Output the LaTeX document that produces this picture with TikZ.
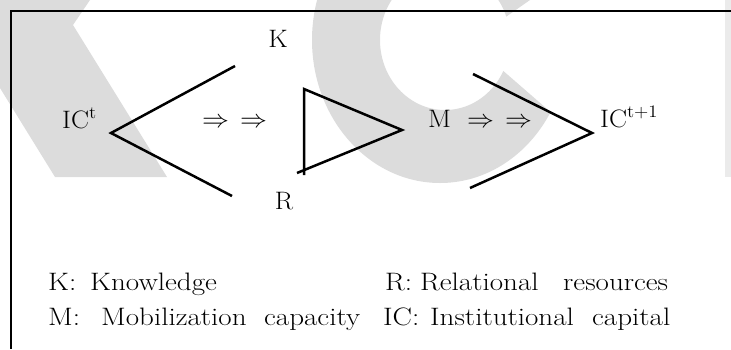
\documentclass[tikz,border=0pt]{standalone}
\usepackage{graphicx}
\definecolor{wm}{HTML}{DCDCDC}
\definecolor{wmlight}{HTML}{EBEBEB}
\newcommand{\sctxt}[1]{\scalebox{1.56}[1.46]{#1}}
\newcommand{\wtxt}[1]{\scalebox{1.68}[1.46]{#1}}
\begin{document}
\begin{tikzpicture}[x=1pt,y=-1pt,
  txt/.style={inner sep=0pt, font=\fontsize{17.28}{21}\selectfont},
  stroke/.style={line width=2.5pt, line join=miter},
  frame/.style={line width=1.7pt}]
\useasboundingbox (0,0) rectangle (731,349);
% watermark
\begin{scope}
  \clip (0,0) rectangle (731,349);
  \fill[wm] (0,0) -- (90,0) -- (73,25) -- (167,177) -- (55,177) -- (0,88) -- cycle;
  \begin{scope}
    \clip (250,-60) -- (615.7,-60) -- (470,42) -- (680,224.5) -- (250,224.5) -- cycle;
    \fill[wm, even odd rule] (440,40) ellipse [x radius=128pt, y radius=143pt]
                             (445,40) ellipse [x radius=65pt, y radius=70pt];
  \end{scope}
  \fill[wmlight] (725,0) rectangle (731,177);
\end{scope}
% frame
\coordinate (fTR) at (731,11);
\coordinate (fTL) at (11,11);
\coordinate (fBL) at (11,349);
\draw[frame] (fTR) -- (fTL) -- (fBL);
% labels
\node[txt, anchor=base] (K) at (278,47) {\sctxt{K}};
\node[txt, anchor=base] (R) at (284,209) {\sctxt{R}};
\node[txt, anchor=base west] (ICt) at (62,128) {\sctxt{IC\textsuperscript{t}}};
\node[txt, anchor=base west] (arrL) at (202,127) {\sctxt{$\Rightarrow$\hspace{7pt}$\Rightarrow$}};
\node[txt, anchor=base west] (M) at (428,127) {\sctxt{M}};
\node[txt, anchor=base west] (arrR) at (467,127) {\sctxt{$\Rightarrow$\hspace{7pt}$\Rightarrow$}};
\node[txt, anchor=base west] (ICt1) at (600,127) {\sctxt{IC\textsuperscript{t+1}}};
% left V
\coordinate (vA) at (111,133);
\coordinate (vU) at (235,66);
\coordinate (vD) at (232,196);
\draw[stroke] (vU) -- (vA) -- (vD);
% triangle
\coordinate (tT) at (304,89);
\coordinate (tP) at (402,130);
\coordinate (tB) at (304,175);
\coordinate (tBL) at (297,173);
\draw[stroke] (tB) -- (tT) -- (tP) -- (tBL);
% right chevron
\coordinate (cU) at (473,74);
\coordinate (cA) at (592,133);
\coordinate (cD) at (470,188);
\draw[stroke] (cU) -- (cA) -- (cD);
% legend
\node[txt, anchor=base west] (lK) at (48,290) {\wtxt{K:}};
\node[txt, anchor=base west] (lKd) at (90,290) {\wtxt{Knowledge}};
\node[txt, anchor=base west] (lR) at (385,290) {\wtxt{R:}};
\node[txt, anchor=base west] (lRd1) at (420,290) {\wtxt{Relational}};
\node[txt, anchor=base west] (lRd2) at (563,290) {\wtxt{resources}};
\node[txt, anchor=base west] (lM) at (48,325) {\wtxt{M:}};
\node[txt, anchor=base west] (lMd1) at (101,325) {\wtxt{Mobilization}};
\node[txt, anchor=base west] (lMd2) at (264,325) {\wtxt{capacity}};
\node[txt, anchor=base west] (lIC) at (383,325) {\wtxt{IC:}};
\node[txt, anchor=base west] (lICd1) at (430,325) {\wtxt{Institutional}};
\node[txt, anchor=base west] (lICd2) at (592,325) {\wtxt{capital}};
\end{tikzpicture}
\end{document}
